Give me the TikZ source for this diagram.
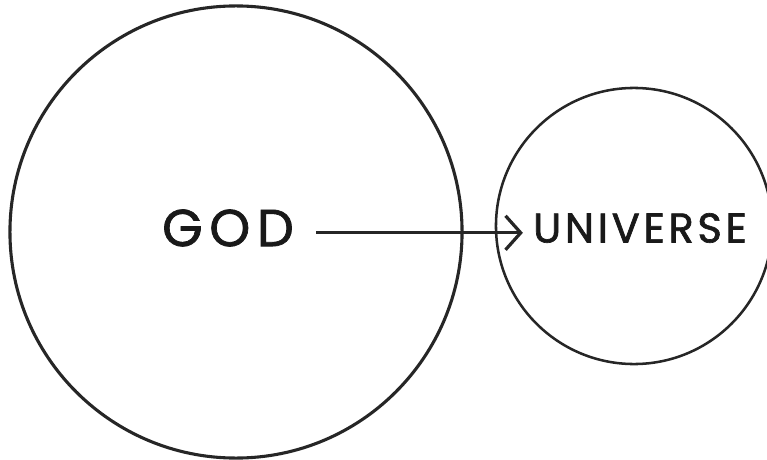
\documentclass[tikz,border=0pt]{standalone}
\usepackage{fontspec}
\setmainfont{Poppins}
\usepackage{tikz}
\usetikzlibrary{arrows.meta, positioning, calc}

\begin{document}
\begin{tikzpicture}[x=0.025cm, y=-0.025cm,
	ring/.style={draw, circle, line width=2.2pt, black!85, inner sep=0pt},
	word/.style={inner sep=0pt, text=black!90}]
	\useasboundingbox (0,0) rectangle (767,459);
	% the two circles
	\node[ring, minimum size=11.3cm] (godring) at (236,232) {};
	\node[ring, minimum size=6.9cm, line width=1.8pt] (uniring) at (634,226) {};
	% labels
	\node[word, font=\fontsize{37}{37}\selectfont\addfontfeatures{LetterSpace=13, FakeBold=1.4}] (god) at (228,228) {GOD};
	\node[word, font=\fontsize{29.5}{30}\selectfont\addfontfeatures{LetterSpace=9, FakeBold=1.6}] (universe) at (640,228) {UNIVERSE};
	\draw[line width=2.3pt, black!85, shorten <=0.55cm, shorten >=0.25cm,
		-{Straight Barb[length=0.38cm, width=0.85cm, line width=2.3pt]}]
		([yshift=-0.12cm]god.east) -- ([yshift=-0.12cm]universe.west);
\end{tikzpicture}
\end{document}
